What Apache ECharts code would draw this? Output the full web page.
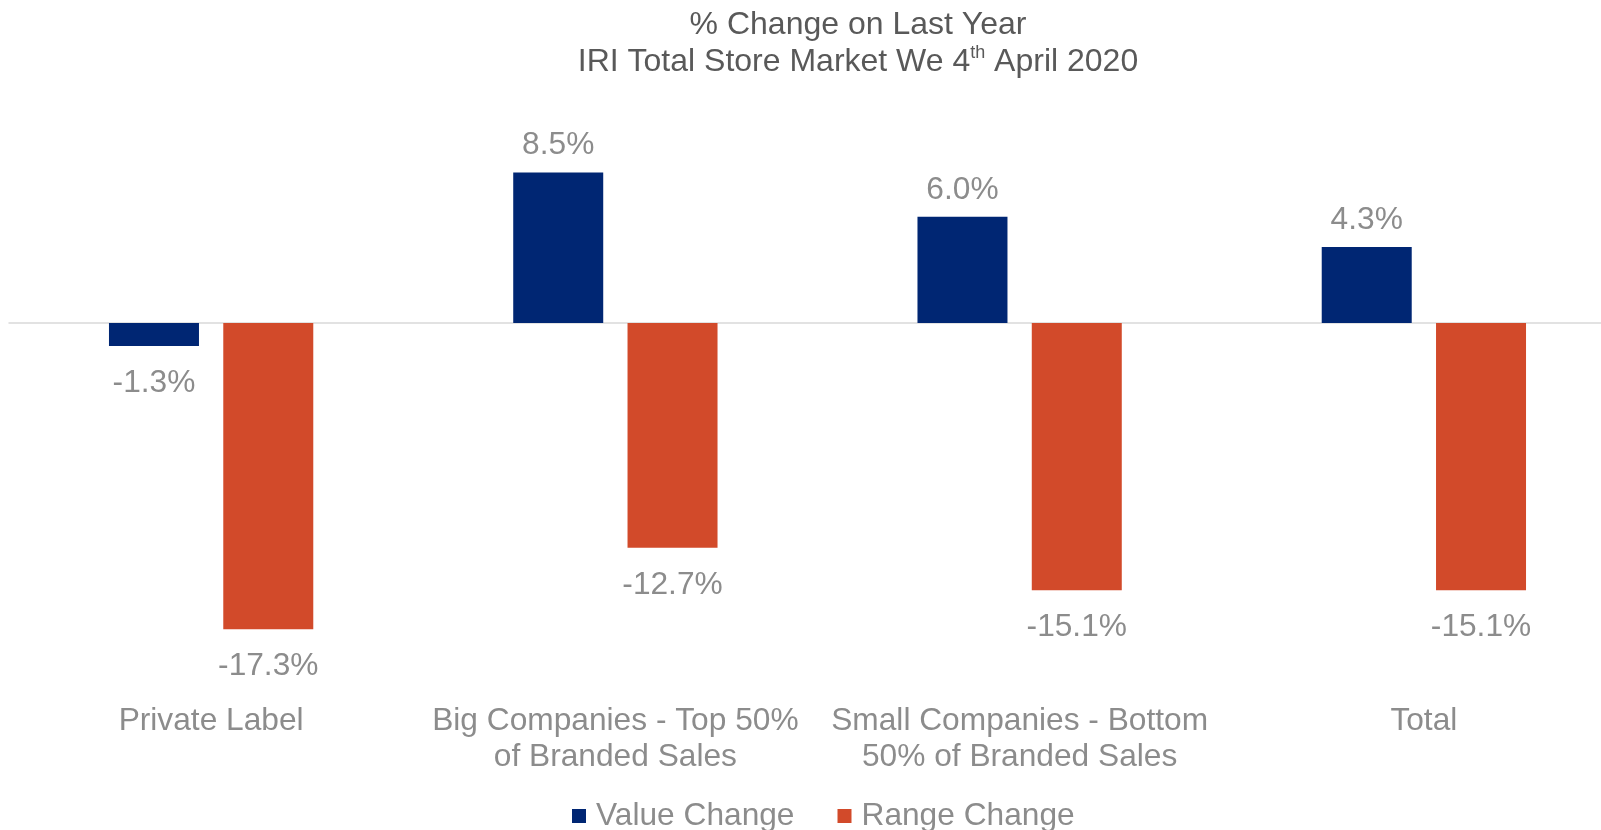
<!DOCTYPE html>
<html>
<head>
<meta charset="utf-8">
<script src="https://cdn.jsdelivr.net/npm/echarts@6/dist/echarts.min.js"></script>
<style>
html,body{margin:0;padding:0;background:#fff;overflow:hidden;}
#chart{width:1630px;height:830px;}
</style>
</head>
<body>
<div id="chart"></div>
<script>
const categories = [
  'Private Label',
  'Big Companies - Top 50%\nof Branded Sales',
  'Small Companies - Bottom\n50% of Branded Sales',
  'Total'
];
const seriesNames = ['Value Change', 'Range Change'];
const valueChange = [-1.3, 8.5, 6.0, 4.3];
const rangeChange = [-17.3, -12.7, -15.1, -15.1];

const FONT = '"Liberation Sans", Arial, sans-serif';
const LABEL_GRAY = '#8c8c8c';
const FS = 31.7;

function toData(arr) {
  return arr.map(v => ({
    value: v,
    label: v < 0 ? { position: 'bottom', distance: 21 } : { position: 'top', distance: 11 }
  }));
}

const chart = echarts.init(document.getElementById('chart'));
chart.setOption({
  animation: false,
  backgroundColor: '#ffffff',
  title: {
    text: '% Change on Last Year\nIRI Total Store Market We 4{sup|th} April 2020',
    left: 853,
    top: 2,
    textAlign: 'center',
    textStyle: {
      fontFamily: FONT,
      fontSize: 32,
      fontWeight: 'normal',
      color: '#595959',
      lineHeight: 37,
      rich: {
        sup: { fontSize: 18, fontFamily: FONT, color: '#595959', verticalAlign: 'top', lineHeight: 25 }
      }
    }
  },
  legend: {
    data: seriesNames,
    left: 567,
    top: 795,
    icon: 'rect',
    itemWidth: 14,
    itemHeight: 14,
    itemGap: 43,
    textStyle: { fontFamily: FONT, fontSize: FS, color: LABEL_GRAY, padding: [0, 0, 0, 5] }
  },
  grid: { left: 9, top: 146, right: 4, height: 531, containLabel: false },
  xAxis: [
    {
      type: 'category',
      data: categories,
      position: 'bottom',
      axisLine: { show: false, onZero: false },
      axisTick: { show: false },
      axisLabel: {
        interval: 0,
        margin: 26,
        fontFamily: FONT,
        fontSize: FS,
        lineHeight: 36,
        color: LABEL_GRAY,
        align: 'center'
      }
    },
    {
      type: 'category',
      data: categories,
      position: 'bottom',
      axisLine: { show: true, onZero: true, lineStyle: { color: '#d9d9d9', width: 1.5 } },
      axisTick: { show: false },
      axisLabel: { show: false }
    }
  ],
  yAxis: {
    type: 'value',
    min: -20,
    max: 10,
    show: false,
    splitLine: { show: false }
  },
  series: [
    {
      name: seriesNames[0],
      type: 'bar',
      data: toData(valueChange),
      barWidth: 90,
      barGap: '27%',
      itemStyle: { color: '#002673' },
      label: {
        show: true,
        fontFamily: FONT,
        fontSize: FS,
        color: LABEL_GRAY,
        formatter: p => p.value.toFixed(1) + '%'
      }
    },
    {
      name: seriesNames[1],
      type: 'bar',
      data: toData(rangeChange),
      barWidth: 90,
      barGap: '27%',
      itemStyle: { color: '#d24a2a' },
      label: {
        show: true,
        fontFamily: FONT,
        fontSize: FS,
        color: LABEL_GRAY,
        formatter: p => p.value.toFixed(1) + '%'
      }
    }
  ]
});
</script>
</body>
</html>
